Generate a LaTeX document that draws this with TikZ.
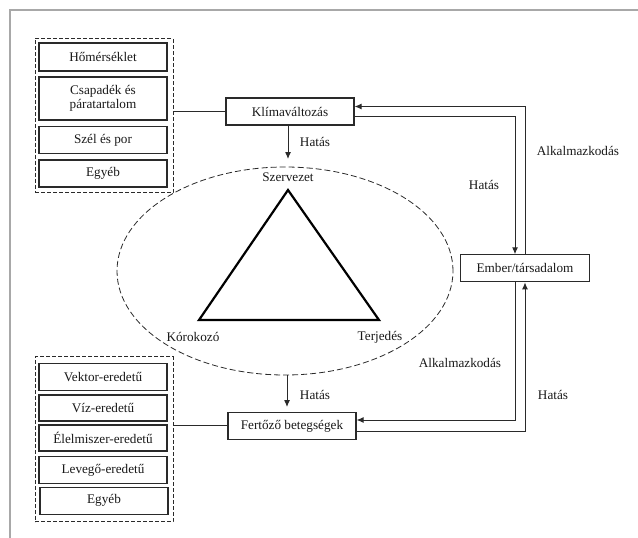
\documentclass[tikz,border=0pt]{standalone}
\usepackage{fontspec}
\setmainfont{Liberation Serif}
\usetikzlibrary{shapes.geometric,arrows.meta}
\definecolor{ln}{HTML}{2A2A2A}
\definecolor{fr}{HTML}{A8A8A8}
\begin{document}
\begin{tikzpicture}[x=1pt,y=-1pt,
  every node/.style={font=\fontsize{13.2}{14.5}\selectfont, text=black!90},
  box/.style={draw=ln, line width=1.1pt, minimum width=128pt, inner sep=1pt, align=center},
  grp/.style={draw=ln, dash pattern=on 4pt off 2pt, line width=1pt, minimum width=138pt},
  con/.style={draw=ln, line width=1pt},
  arr/.style={con, -{Latex[length=7pt,width=6pt]}},
  lbl/.style={inner sep=0pt}]
\useasboundingbox (0,0) rectangle (638,538);
\draw[fr, line width=2.5pt] (10,538) -- (10,10) -- (638,10);

% top group
\node[grp, minimum height=154pt] (g1) at (104,115.5) {};
\node[box, minimum height=28pt] (h1) at (103,57) {Hőmérséklet};
\node[box, minimum height=43pt] (h2) at (103,98.5) {Csapadék és\\páratartalom};
\node[box, minimum height=27pt] (h3) at (103,140) {Szél és por};
\node[box, minimum height=27pt] (h4) at (103,173.5) {Egyéb};

% bottom group
\node[grp, minimum height=165pt] (g2) at (104,439.3) {};
\node[box, minimum height=27pt] (b1) at (103,377.3) {Vektor-eredetű};
\node[box, minimum height=26pt] (b2) at (103,408) {Víz-eredetű};
\node[box, minimum height=26pt] (b3) at (103,438) {Élelmiszer-eredetű};
\node[box, minimum height=27pt] (b4) at (103,470) {Levegő-eredetű};
\node[box, minimum height=27pt] (b5) at (104,500.7) {Egyéb};

% main boxes
\node[box, minimum height=27pt] (klima) at (290,111.5) {Klímaváltozás};
\node[box, minimum width=129pt, minimum height=27pt] (ember) at (525,268.3) {Ember/társadalom};
\node[box, minimum height=27pt] (fert) at (292,426) {Fertőző betegségek};

% ellipse and triangle
\node[ellipse, draw=ln, dash pattern=on 6pt off 3pt, line width=0.8pt, minimum width=336pt, minimum height=208pt] (ell) at (285,271) {};
\coordinate (ta) at (288,190);
\coordinate (tl) at (199,320);
\coordinate (tr) at (379,320);
\draw[black, line width=2.2pt, line join=miter] (ta) -- (tl) -- (tr) -- cycle;
\node[lbl] (sz) at (288,177) {Szervezet};
\node[lbl] (ko) at (193,337) {Kórokozó};
\node[lbl] (te) at (380,337) {Terjedés};

% group connectors
\draw[con] (klima.west -| g1.east) -- (klima.west);
\draw[con] ([yshift=1pt]fert.west -| g2.east) -- ([yshift=1pt]fert.west);

% Hatás arrows
\coordinate (t1) at (288,159);
\coordinate (t2) at (287,407);
\draw[arr] (klima.south -| t1) -- (t1);
\draw[arr] (t2 |- ell.south) -- (t2);
\node[lbl] (l1) at (315,142) {Hatás};
\node[lbl] (l2) at (315,395) {Hatás};

% feedback loops
\draw[arr] ([yshift=-5pt]klima.east) -| ([xshift=-10pt]ember.north);
\draw[arr] (ember.north) |- ([yshift=5pt]klima.east);
\draw[arr] ([xshift=-10pt]ember.south) |- ([yshift=6pt]fert.east);
\draw[arr] ([yshift=-5pt]fert.east) -| (ember.south);
\node[lbl] (l3) at (578,151) {Alkalmazkodás};
\node[lbl] (l4) at (484,185) {Hatás};
\node[lbl] (l5) at (460,363) {Alkalmazkodás};
\node[lbl] (l6) at (553,395) {Hatás};
\end{tikzpicture}
\end{document}
